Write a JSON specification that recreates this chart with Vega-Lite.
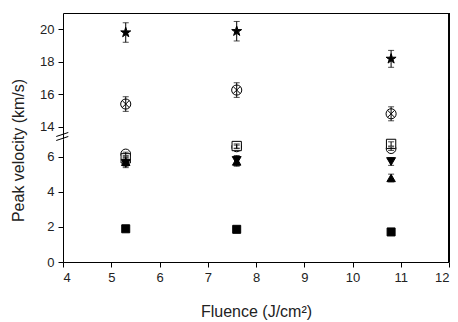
{
  "$schema": "https://vega.github.io/schema/vega-lite/v6.json",
  "background": "white",
  "padding": {"left": 9, "top": 12, "right": 2, "bottom": 2},
  "spacing": 0,
  "bounds": "flush",
  "resolve": {"scale": {"y": "independent"}},
  "config": {
    "view": {"stroke": null},
    "font": "Liberation Sans",
    "scale": {"continuousPadding": 0},
    "axis": {
      "domainColor": "black", "domainWidth": 1, "tickColor": "black", "tickWidth": 1,
      "labelColor": "#222", "titleColor": "#222", "labelFontSize": 13, "titleFontSize": 16,
      "titleFontWeight": "normal", "grid": false, "labelFont": "Liberation Sans", "titleFont": "Liberation Sans",
      "labelPadding": 4
    }
  },
  "datasets": {
    "pts": [
      {"f": 5.3, "v": 19.8, "lo": 19.2, "hi": 20.4, "s": "star"},
      {"f": 7.6, "v": 19.88, "lo": 19.28, "hi": 20.48, "s": "star"},
      {"f": 10.8, "v": 18.18, "lo": 17.66, "hi": 18.7, "s": "star"},
      {"f": 5.3, "v": 15.4, "lo": 14.95, "hi": 15.85, "s": "cx"},
      {"f": 7.6, "v": 16.26, "lo": 15.81, "hi": 16.71, "s": "cx"},
      {"f": 10.8, "v": 14.8, "lo": 14.37, "hi": 15.23, "s": "cx"},
      {"f": 5.3, "v": 6.15, "lo": 6.05, "hi": 6.25, "s": "oc"},
      {"f": 7.6, "v": 6.55, "lo": 6.45, "hi": 6.65, "s": "oc"},
      {"f": 10.8, "v": 6.45, "lo": 6.35, "hi": 6.55, "s": "oc"},
      {"f": 5.3, "v": 5.9, "lo": 5.78, "hi": 6.02, "s": "os"},
      {"f": 7.6, "v": 6.6, "lo": 6.48, "hi": 6.72, "s": "os"},
      {"f": 10.8, "v": 6.72, "lo": 6.6, "hi": 6.84, "s": "os"},
      {"f": 5.3, "v": 5.62, "lo": 5.37, "hi": 5.87, "s": "tdn"},
      {"f": 7.6, "v": 5.78, "lo": 5.5, "hi": 6.06, "s": "tdn"},
      {"f": 10.8, "v": 5.72, "lo": 5.5, "hi": 5.94, "s": "tdn"},
      {"f": 5.3, "v": 5.7, "lo": 5.45, "hi": 5.95, "s": "tup"},
      {"f": 7.6, "v": 5.72, "lo": 5.45, "hi": 5.99, "s": "tup"},
      {"f": 10.8, "v": 4.78, "lo": 4.56, "hi": 5.0, "s": "tup"},
      {"f": 5.3, "v": 1.89, "lo": 1.81, "hi": 1.97, "s": "fs"},
      {"f": 7.6, "v": 1.86, "lo": 1.78, "hi": 1.94, "s": "fs"},
      {"f": 10.8, "v": 1.71, "lo": 1.63, "hi": 1.79, "s": "fs"}
    ],
    "brk": [
      {"bx": 3.86, "by": 7.143, "bx2": 4.11, "by2": 7.371},
      {"bx": 3.86, "by": 6.914, "bx2": 4.11, "by2": 7.143}
    ]
  },
  "vconcat": [
    {
      "width": 386,
      "height": 126,
      "data": {"name": "pts"},
      "transform": [{"filter": "datum.v > 10"}],
      "layer": [
        {
          "mark": {"type": "point", "filled": true, "stroke": "black", "strokeWidth": 1, "opacity": 1},
          "encoding": {
            "x": {"field": "f", "type": "quantitative", "title": "F", "scale": {"domain": [4, 12], "nice": false, "zero": false, "padding": 0},
              "axis": {"orient": "top", "ticks": false, "labels": false, "title": null, "domain": true}},
            "y": {"field": "v", "type": "quantitative", "title": "V", "scale": {"domain": [13.25, 21], "nice": false, "zero": false, "padding": 0},
              "axis": {"values": [14, 15, 16, 17, 18, 19, 20], "labelExpr": "datum.value % 2 === 0 ? datum.label : ''",
                "tickSize": {"condition": {"test": "datum.value % 2 !== 0", "value": 3}, "value": 5}, "title": null}},
            "shape": {"field": "s", "type": "nominal", "legend": null,
              "scale": {"domain": ["star", "cx", "oc", "os", "tdn", "tup", "fs"],
                "range": ["M0,-1L0.2245,-0.309L0.951,-0.309L0.363,0.118L0.588,0.809L0,0.382L-0.588,0.809L-0.363,0.118L-0.951,-0.309L-0.2245,-0.309Z",
                  "M1,0A1,1 0 1,1 -1,0A1,1 0 1,1 1,0Z M-0.7,-0.7L0.7,0.7M-0.7,0.7L0.7,-0.7",
                  "circle", "square", "triangle-down", "triangle-up", "square"]}},
            "fill": {"field": "s", "type": "nominal", "legend": null,
              "scale": {"domain": ["star", "cx", "oc", "os", "tdn", "tup", "fs"],
                "range": ["black", "white", "white", "white", "black", "black", "black"]}},
            "size": {"field": "s", "type": "nominal", "legend": null,
              "scale": {"domain": ["star", "cx", "oc", "os", "tdn", "tup", "fs"],
                "range": [110, 64, 45, 45, 50, 50, 55]}}
          }
        },
        {
          "mark": {"type": "rule", "color": "black", "strokeWidth": 1},
          "encoding": {
            "x": {"datum": 12, "type": "quantitative", "title": "F", "scale": {"domain": [4, 12], "nice": false, "zero": false, "padding": 0}}
          }
        },
        {
          "mark": {"type": "errorbar", "color": "black", "ticks": {"size": 6}, "thickness": 1},
          "encoding": {
            "x": {"field": "f", "type": "quantitative", "title": "F", "scale": {"domain": [4, 12], "nice": false, "zero": false, "padding": 0}},
            "y": {"field": "lo", "type": "quantitative", "title": "V", "scale": {"domain": [13.25, 21], "nice": false, "zero": false, "padding": 0}},
            "y2": {"field": "hi"}
          }
        }
      ]
    },
    {
      "width": 386,
      "height": 123,
      "layer": [
        {
          "data": {"name": "pts"},
          "transform": [{"filter": "datum.v < 10"}],
          "mark": {"type": "point", "filled": true, "stroke": "black", "strokeWidth": 1, "opacity": 1},
          "encoding": {
            "x": {"field": "f", "type": "quantitative", "title": "Fluence (J/cm²)", "scale": {"domain": [4, 12], "nice": false, "zero": false, "padding": 0},
              "axis": {"values": [4, 4.5, 5, 5.5, 6, 6.5, 7, 7.5, 8, 8.5, 9, 9.5, 10, 10.5, 11, 11.5, 12],
                "labelExpr": "datum.value % 1 === 0 ? datum.label : ''",
                "tickSize": {"condition": {"test": "datum.value % 1 !== 0", "value": 3}, "value": 5},
                "titlePadding": 19}},
            "y": {"field": "v", "type": "quantitative", "title": "Peak velocity (km/s)", "scale": {"domain": [0, 7], "nice": false, "zero": false, "padding": 0},
              "axis": {"values": [0, 1, 2, 3, 4, 5, 6], "labelExpr": "datum.value % 2 === 0 ? datum.label : ''",
                "tickSize": {"condition": {"test": "datum.value % 2 !== 0", "value": 3}, "value": 5},
                "titleX": -37, "titleY": 11, "titleAlign": "center"}},
            "shape": {"field": "s", "type": "nominal", "legend": null,
              "scale": {"domain": ["star", "cx", "oc", "os", "tdn", "tup", "fs"],
                "range": ["M0,-1L0.2245,-0.309L0.951,-0.309L0.363,0.118L0.588,0.809L0,0.382L-0.588,0.809L-0.363,0.118L-0.951,-0.309L-0.2245,-0.309Z",
                  "M1,0A1,1 0 1,1 -1,0A1,1 0 1,1 1,0Z M-0.7,-0.7L0.7,0.7M-0.7,0.7L0.7,-0.7",
                  "circle", "square", "triangle-down", "triangle-up", "square"]}},
            "fill": {"field": "s", "type": "nominal", "legend": null,
              "scale": {"domain": ["star", "cx", "oc", "os", "tdn", "tup", "fs"],
                "range": ["black", "white", "white", "white", "black", "black", "black"]}},
            "size": {"field": "s", "type": "nominal", "legend": null,
              "scale": {"domain": ["star", "cx", "oc", "os", "tdn", "tup", "fs"],
                "range": [110, 64, 45, 45, 50, 50, 55]}}
          }
        },
        {
          "data": {"name": "pts"},
          "mark": {"type": "rule", "color": "black", "strokeWidth": 1},
          "encoding": {
            "x": {"datum": 12, "type": "quantitative", "title": "Fluence (J/cm²)", "scale": {"domain": [4, 12], "nice": false, "zero": false, "padding": 0}}
          }
        },
        {
          "data": {"name": "brk"},
          "mark": {"type": "rule", "color": "black", "strokeWidth": 1},
          "encoding": {
            "x": {"field": "bx", "type": "quantitative", "title": "Fluence (J/cm²)", "scale": {"domain": [4, 12], "nice": false, "zero": false, "padding": 0}},
            "x2": {"field": "bx2"},
            "y": {"field": "by", "type": "quantitative", "title": "Peak velocity (km/s)", "scale": {"domain": [0, 7], "nice": false, "zero": false, "padding": 0}},
            "y2": {"field": "by2"}
          }
        },
        {
          "data": {"name": "pts"},
          "transform": [{"filter": "datum.v < 10"}],
          "mark": {"type": "errorbar", "color": "black", "ticks": {"size": 6}, "thickness": 1},
          "encoding": {
            "x": {"field": "f", "type": "quantitative", "title": "Fluence (J/cm²)", "scale": {"domain": [4, 12], "nice": false, "zero": false, "padding": 0}},
            "y": {"field": "lo", "type": "quantitative", "title": "Peak velocity (km/s)", "scale": {"domain": [0, 7], "nice": false, "zero": false, "padding": 0}},
            "y2": {"field": "hi"}
          }
        }
      ]
    }
  ]
}
